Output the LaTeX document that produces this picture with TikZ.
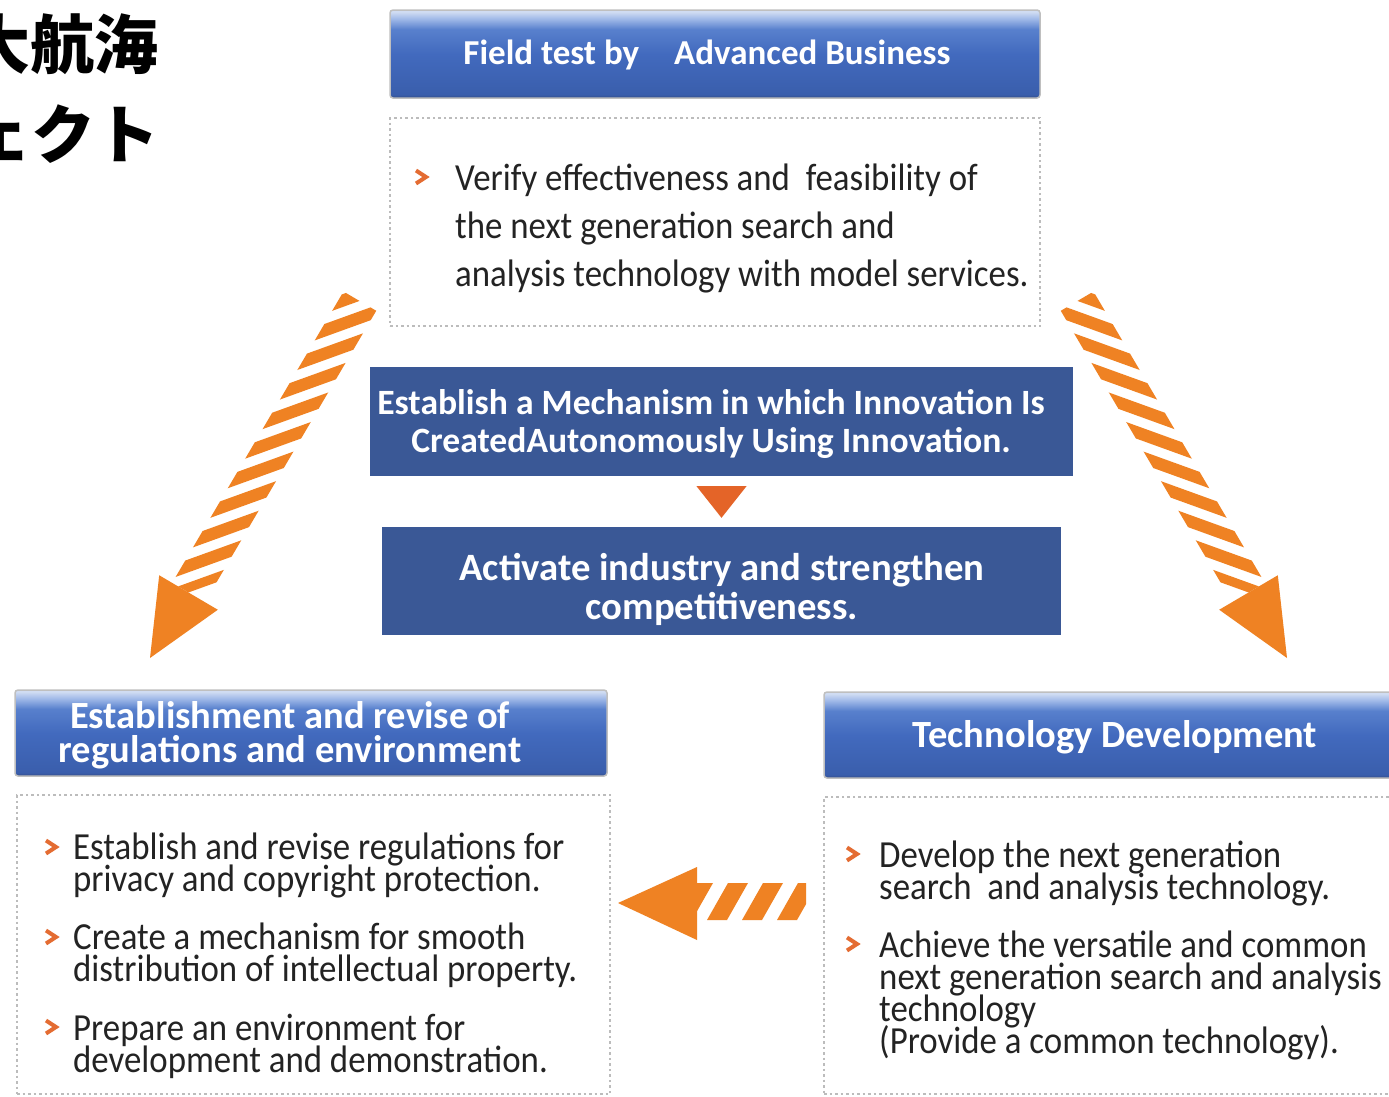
\documentclass[tikz,border=0pt]{standalone}
\usepackage{fontspec}
\setmainfont{Carlito}
\newfontfamily\bodyfont[FakeStretch=0.91]{Carlito}
\newfontfamily\headfont{Carlito}
\newfontfamily\cjk{Noto Sans CJK JP}
\usetikzlibrary{calc}
\definecolor{arrorange}{RGB}{239,130,35}
\definecolor{triorange}{RGB}{228,100,40}
\definecolor{bulorange}{RGB}{228,108,50}
\definecolor{darkblue}{RGB}{58,88,150}
\definecolor{hT}{RGB}{208,220,242}
\definecolor{hS}{RGB}{160,185,232}
\definecolor{hL}{RGB}{88,128,205}
\definecolor{hM}{RGB}{66,106,190}
\definecolor{hD}{RGB}{58,94,172}
\definecolor{hB}{RGB}{52,78,138}
\definecolor{dotgray}{RGB}{188,188,188}
\definecolor{bodytext}{RGB}{35,35,35}
\pgfdeclareverticalshading{hdrshade}{100bp}{color(0bp)=(hB); color(25bp)=(hB); color(27bp)=(hD); color(50bp)=(hM); color(64bp)=(hL); color(70bp)=(hS); color(74bp)=(hT); color(100bp)=(hT)}
\tikzset{
  hdrbox/.style={shade, shading=hdrshade, draw=gray!50, line width=1.5pt, rounded corners=3pt, inner sep=0pt},
  hdrtext/.style={text=white, align=center, inner sep=0pt, font={\headfont\bfseries\fontsize{38.5}{34}\selectfont\lineskiplimit=-100pt}},
  dotbox/.style={draw=dotgray, line width=2pt, dash pattern=on 2.5pt off 3pt, fill=white, inner sep=0pt},
  bluebox/.style={fill=darkblue, inner sep=0pt},
  bluetext/.style={text=white, align=center, inner sep=0pt},
  itemtext/.style={anchor=north west, inner sep=0pt, align=left, text=bodytext, font={\bodyfont\fontsize{38.3}{32}\selectfont\lineskiplimit=-100pt}},
  arrfill/.style={fill=arrorange},
  titletext/.style={anchor=east, inner sep=0pt, font={\cjk\bfseries\fontsize{64}{64}\selectfont}},
  chev/.pic={\draw[bulorange, line width=4pt, line join=miter] (-5,-6.5) -- (5,0) -- (-5,6.5);}
}
\begin{document}
\begin{tikzpicture}[x=1pt,y=-1pt]
\useasboundingbox (0,0) rectangle (1389,1096);
\fill[white] (0,0) rectangle (1389,1096);

% title (cut off at the left edge)
\begin{scope}
\clip (0,0) rectangle (1389,1096);
\node[titletext] (titleA) at (159,44) {情報大航海};
\node[titletext] (titleB) at (160,133) {プロジェクト};
\end{scope}

% ---------- boxes ----------
\node[hdrbox, minimum width=650pt, minimum height=88pt] (fieldhdr) at (715,54) {};
\node[hdrtext, font={\headfont\bfseries\fontsize{35}{38}\selectfont}] (fieldhdrtxt) at (707,55) {Field test by\hspace{35pt}Advanced Business};

\node[dotbox, minimum width=650pt, minimum height=208pt] (fieldbox) at (715,222) {};
\pic at (421,177) {chev};
\node[itemtext, font={\bodyfont\fontsize{38.3}{48}\selectfont\lineskiplimit=-100pt}] (fieldtxt) at (455,162)
  {\rule{0pt}{28pt}Verify effectiveness and\ \ feasibility of\\the next generation search and\\analysis technology with model services.};

\node[bluebox, minimum width=703pt, minimum height=109pt] (mech) at (721.5,421.5) {};
\node[bluetext, font={\headfont\bfseries\fontsize{35.6}{38}\selectfont\lineskiplimit=-100pt}] (mechtxt) at (711,424)
  {Establish a Mechanism in which Innovation Is\\CreatedAutonomously Using Innovation.};

\node[bluebox, minimum width=679pt, minimum height=108pt] (act) at (721.5,581) {};
\node[bluetext, font={\headfont\bfseries\fontsize{38.7}{39}\selectfont\lineskiplimit=-100pt}] (acttxt) at (722,589)
  {Activate industry and strengthen\\competitiveness.};

\fill[triorange] ($(mech.south)+(-25,10)$) -- ($(mech.south)+(25,10)$) -- ($(act.north)+(0,-9)$) -- cycle;

\node[hdrbox, minimum width=592pt, minimum height=86pt] (reghdr) at (311,733) {};
\node[hdrtext] (reghdrtxt) at (290,735) {Establishment and revise of\\regulations and environment};

\node[dotbox, minimum width=593pt, minimum height=299pt] (regbox) at (313.5,944.5) {};
\pic at (51,847) {chev};
\node[itemtext] (reg1) at (73,831) {\rule{0pt}{28pt}Establish and revise regulations for\\privacy and copyright protection.};
\pic at (51,937) {chev};
\node[itemtext] (reg2) at (73,921) {\rule{0pt}{28pt}Create a mechanism for smooth\\distribution of intellectual property.};
\pic at (51,1027) {chev};
\node[itemtext] (reg3) at (73,1012) {\rule{0pt}{28pt}Prepare an environment for\\development and demonstration.};

\node[hdrbox, minimum width=571pt, minimum height=86pt] (techhdr) at (1109.5,735) {};
\node[hdrtext] (techhdrtxt) at (1115,737) {Technology Development};

\node[dotbox, minimum width=571pt, minimum height=297pt] (techbox) at (1109.5,945.5) {};
\pic at (852,854) {chev};
\node[itemtext] (tech1) at (879,839) {\rule{0pt}{28pt}Develop the next generation\\search\ \ and analysis technology.};
\pic at (852,944) {chev};
\node[itemtext] (tech2) at (879,929) {\rule{0pt}{28pt}Achieve the versatile and common\\next generation search and analysis\\technology\\(Provide a common technology).};

% ---------- left diagonal arrow (field test -> regulations) ----------
\coordinate (Lb) at (188.5,592.5);
\coordinate (Lt) at (150,658);
\coordinate (Ld) at (-0.507,0.862);
\coordinate (Ln) at (0.862,0.507);
\coordinate (Le) at (0.94,-0.34);
\begin{scope}
\clip ($(Lb)+19*(Ln)$) -- ($(Lb)-19*(Ln)$) -- ($(Lb)-19*(Ln)-338*(Ld)$) -- ($(Lb)+19*(Ln)-338*(Ld)$) -- cycle;
\foreach \k in {0,...,10}{
  \pgfmathsetmacro\La{max(0.1,5+34.3*\k-9.5)}
  \pgfmathsetmacro\Lz{5+34.3*\k+9.5}
  \fill[arrfill] ($(Lb)-\La*(Ld)+60*(Le)$) -- ($(Lb)-\La*(Ld)-60*(Le)$) -- ($(Lb)-\Lz*(Ld)-60*(Le)$) -- ($(Lb)-\Lz*(Ld)+60*(Le)$) -- cycle;
}
\end{scope}
\fill[arrfill] (Lt) -- ($(Lb)+34*(Ln)$) -- ($(Lb)-34*(Ln)$) -- cycle;

% ---------- right diagonal arrow (field test -> technology) ----------
\coordinate (Rb) at (1248.5,592.5);
\coordinate (Rt) at (1287,658);
\coordinate (Rd) at (0.507,0.862);
\coordinate (Rn) at (0.862,-0.507);
\coordinate (Re) at (0.94,0.34);
\begin{scope}
\clip ($(Rb)+19*(Rn)$) -- ($(Rb)-19*(Rn)$) -- ($(Rb)-19*(Rn)-338*(Rd)$) -- ($(Rb)+19*(Rn)-338*(Rd)$) -- cycle;
\foreach \k in {0,...,10}{
  \pgfmathsetmacro\La{max(0.1,5+34.3*\k-9.5)}
  \pgfmathsetmacro\Lz{5+34.3*\k+9.5}
  \fill[arrfill] ($(Rb)-\La*(Rd)+60*(Re)$) -- ($(Rb)-\La*(Rd)-60*(Re)$) -- ($(Rb)-\Lz*(Rd)-60*(Re)$) -- ($(Rb)-\Lz*(Rd)+60*(Re)$) -- cycle;
}
\end{scope}
\fill[arrfill] (Rt) -- ($(Rb)+34*(Rn)$) -- ($(Rb)-34*(Rn)$) -- cycle;

% ---------- horizontal arrow (technology -> regulations) ----------
\coordinate (Htip) at (618,903);
\coordinate (Hbase) at (697,903);
\begin{scope}
\clip (697,883) rectangle (806,920);
\foreach \a in {693,728,763,798}{
  \fill[arrfill] (\a,883) -- (\a+20,883) -- (\a-1,920) -- (\a-21,920) -- cycle;
}
\end{scope}
\fill[arrfill] (Htip) -- ($(Hbase)+(0,-36)$) -- ($(Hbase)+(0,37)$) -- cycle;
\end{tikzpicture}
\end{document}
